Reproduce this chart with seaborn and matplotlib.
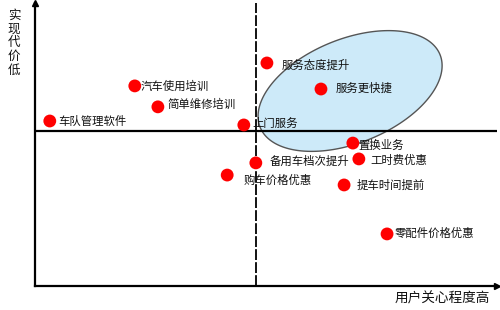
import numpy as np
import pandas as pd
import seaborn as sns
import matplotlib
matplotlib.use("Agg")
import matplotlib.pyplot as plt

# ---- data (x: 用户关心程度, y: 实现代价低; 0-100 scales) ----
items = ["车队管理软件", "汽车使用培训", "简单维修培训", "上门服务", "服务态度提升",
         "服务更快捷", "置换业务", "备用车档次提升", "工时费优惠", "购车价格优惠",
         "提车时间提前", "零配件价格优惠"]
concern = [3.2, 21.6, 26.6, 45.2, 50.2, 61.9, 68.8, 47.8, 70.1, 41.6, 66.9, 76.2]
low_cost = [58.3, 70.7, 63.3, 56.9, 78.8, 69.6, 50.5, 43.5, 44.9, 39.2, 35.7, 18.4]
x_axis_label = "用户关心程度高"
y_axis_label = "实现代价低"
divider_x = 47.8
divider_y = 54.8
# highlighted cluster ellipse (centre in data units, radii in pixels, angle in degrees)
ell_center = (68.2, 68.9)
ell_a_px, ell_b_px, ell_angle = 97, 52, 22

# label offsets in pixels (dx, dy)
label_offsets = [(8, 0), (6, 0), (10, 3), (9, 2), (15, -2), (15, 1), (5, -2),
                 (14, 2), (12, -2), (16, -5), (13, 0), (8, 1)]

df = pd.DataFrame({"item": items, "x": concern, "y": low_cost})

sns.set_style("white")
plt.rcParams["font.family"] = ["Noto Sans CJK SC", "DejaVu Sans"]

W, H = 500, 310
fig = plt.figure(figsize=(W / 100, H / 100), dpi=100)
ax = fig.add_axes([0.07, 0.0774, 0.924, 0.913])
ax.set_xlim(0, 100)
ax.set_ylim(0, 100)

# ellipse (parametric, in pixel space -> data space)
sx = 462 / 100.0
sy = 283 / 100.0
t = np.linspace(0, 2 * np.pi, 240)
th = np.deg2rad(ell_angle)
px = ell_a_px * np.cos(t) * np.cos(th) - ell_b_px * np.sin(t) * np.sin(th)
py = ell_a_px * np.cos(t) * np.sin(th) + ell_b_px * np.sin(t) * np.cos(th)
ex = ell_center[0] + px / sx
ey = ell_center[1] + py / sy
ax.fill(ex, ey, facecolor="#cdeaf9", edgecolor="#555555", lw=1.0, zorder=1)

# quadrant dividers
ax.axhline(divider_y, color="black", lw=1.6, zorder=2)
ax.axvline(divider_x, color="black", lw=1.3, ls=(0, (6, 1.2)), zorder=2)

sns.scatterplot(data=df, x="x", y="y", ax=ax, color="#ff0000", s=85,
                edgecolor="none", zorder=4, legend=False)

for name, xv, yv, (dx, dy) in zip(items, concern, low_cost, label_offsets):
    ax.annotate(name, (xv, yv), xytext=(dx, dy), textcoords="offset pixels",
                ha="left", va="center", fontsize=8.2, color="#111111", zorder=5)

for s in ["top", "right"]:
    ax.spines[s].set_visible(False)
for s in ["left", "bottom"]:
    ax.spines[s].set_color("black")
    ax.spines[s].set_linewidth(1.6)
ax.set_xticks([])
ax.set_yticks([])
ax.set_xlabel("")
ax.set_ylabel("")

# arrow heads
ax.plot([0], [1], marker="^", color="black", markersize=5, transform=ax.transAxes, clip_on=False)
ax.plot([1], [0], marker=">", color="black", markersize=5, transform=ax.transAxes, clip_on=False)

# vertical (stacked) y-axis title
for i, ch in enumerate(y_axis_label):
    fig.text(14 / W, 1 - (15 + 13.8 * i) / H, ch, ha="center", va="center",
             fontsize=9, color="#111111")
fig.text(490 / W, 1 - 298 / H, x_axis_label, ha="right", va="center",
         fontsize=9.8, color="#111111")

fig.savefig("out.png", dpi=100)
